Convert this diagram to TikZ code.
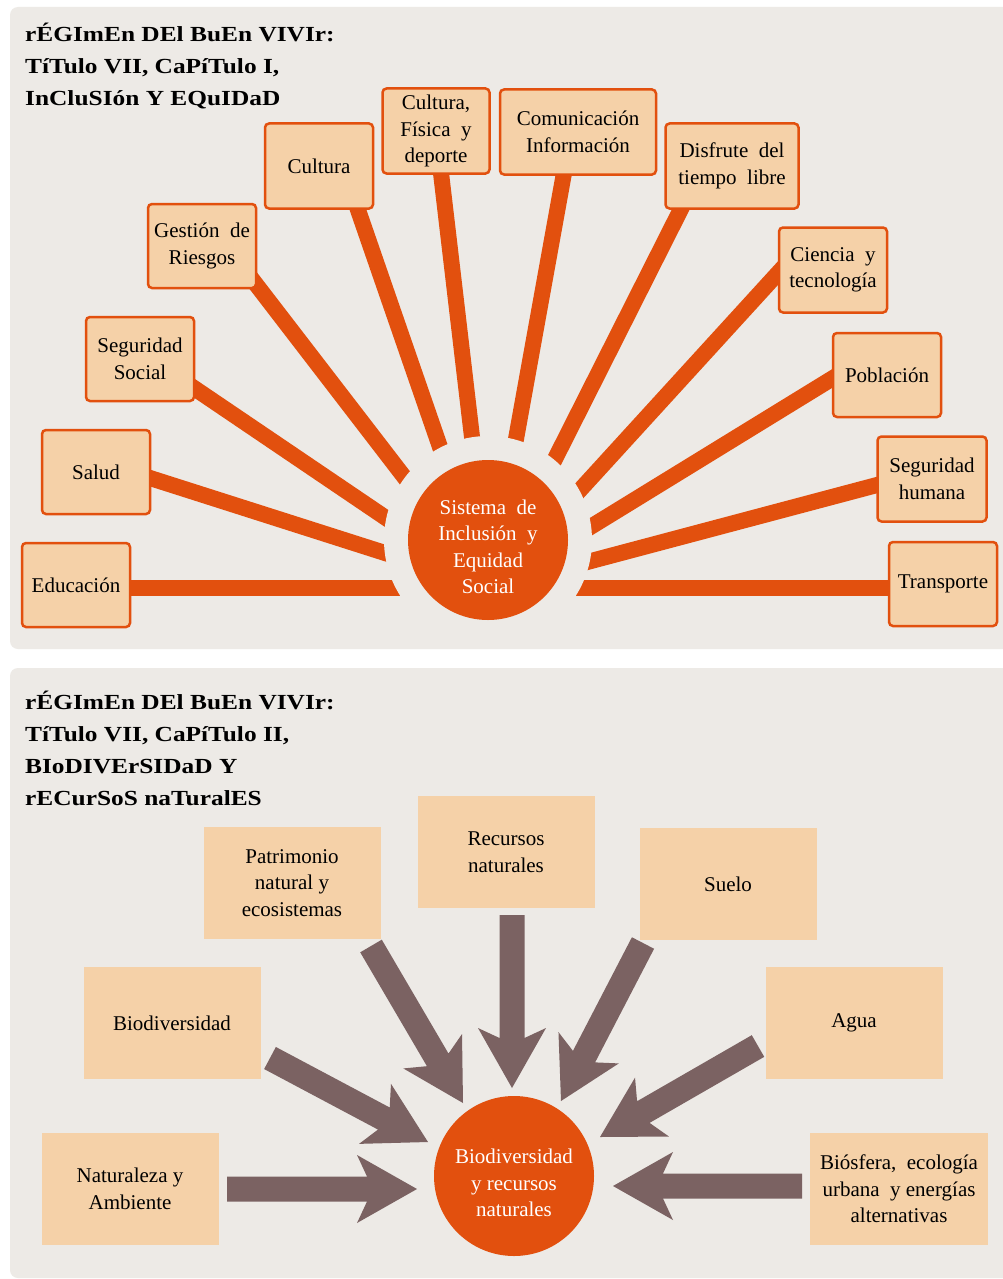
\documentclass[tikz,border=0pt]{standalone}
\usepackage{fontspec}
\setmainfont{Liberation Serif}
\newfontfamily\titlefont[FakeStretch=1.18]{Liberation Serif}
\usetikzlibrary{calc}
\definecolor{panelbg}{RGB}{237,234,230}
\definecolor{orng}{RGB}{226,80,14}
\definecolor{peach}{RGB}{245,209,168}
\definecolor{brwn}{RGB}{123,98,98}
\newcommand\boxfs{\fontsize{21}{26.5}\selectfont}
\newcommand\titlefs{\titlefont\bfseries\fontsize{21.5}{32}\selectfont}
\tikzset{
  tbox/.style={draw=orng, line width=2.5pt, fill=peach, rounded corners=4pt, align=center, inner sep=0pt, font=\boxfs, minimum width=108pt, minimum height=84pt},
  bbox/.style={fill=peach, align=center, inner sep=0pt, font=\boxfs, minimum width=177pt, minimum height=112pt},
  spoke/.style={draw=orng, line width=16pt, shorten <=-10pt, shorten >=-22pt},
  hub/.style={circle, fill=orng, inner sep=0pt, minimum size=160pt},
  hubtext/.style={text=white, align=center, font=\boxfs, inner sep=0pt},
  ttl/.style={anchor=base west, inner sep=0pt, font=\titlefs},
  arrowfill/.style={fill=brwn}
}
\newcommand\blockarrow[2]{%
  \path (#1) coordinate (ba-s) (#2) coordinate (ba-t);
  \path ($(ba-t)!50pt!(ba-s)$) coordinate (ba-j) ($(ba-t)!60pt!(ba-s)$) coordinate (ba-b);
  \fill[arrowfill] ($(ba-s)!12.5pt!90:(ba-t)$) -- ($(ba-j)!12.5pt!90:(ba-t)$) -- ($(ba-b)!34pt!90:(ba-t)$) -- (ba-t)
     -- ($(ba-b)!34pt!-90:(ba-t)$) -- ($(ba-j)!12.5pt!-90:(ba-t)$) -- ($(ba-s)!12.5pt!-90:(ba-t)$) -- cycle;
}
\begin{document}
\begin{tikzpicture}[x=1pt,y=-1pt]
\useasboundingbox (0,0) rectangle (1002,1279);
\fill[white] (0,0) rectangle (1002,1279);
\fill[panelbg, rounded corners=8pt] (10,7) rectangle (1030,649);
\fill[panelbg, rounded corners=8pt] (10,668) rectangle (1030,1278);

% ---------- top panel ----------
\coordinate (hubc) at (488,540);
\coordinate (s1) at (130,588);  \coordinate (e1) at (396,588);
\coordinate (s2) at (150,478);  \coordinate (e2) at (385,553);
\coordinate (s3) at (194,388);  \coordinate (e3) at (386,518);
\coordinate (s4) at (255,283);  \coordinate (e4) at (405,478);
\coordinate (s5) at (357,207);  \coordinate (e5) at (440,447);
\coordinate (s6) at (441,173);  \coordinate (e6) at (472,437);
\coordinate (s7) at (564,173);  \coordinate (e7) at (516,439);
\coordinate (s8) at (682,207);  \coordinate (e8) at (555,459);
\coordinate (s9) at (779,272);  \coordinate (e9) at (580,490);
\coordinate (s10) at (833,378); \coordinate (e10) at (592,526);
\coordinate (s11) at (877,485); \coordinate (e11) at (591,561);
\coordinate (s12) at (889,588); \coordinate (e12) at (581,588);
\foreach \i in {1,...,12} \draw[spoke] (s\i) -- (e\i);
\fill[panelbg] (hubc) circle (104pt);
\node[hub] (hub1) at (hubc) {};
\node[hubtext] (hub1t) at (488,547) {Sistema\ \ de\\Inclusión\ \ y\\Equidad\\Social};

\node[tbox] (educ) at (76,585) {Educación};
\node[tbox] (salud) at (96,472) {Salud};
\node[tbox] (segsoc) at (140,359) {Seguridad\\Social};
\node[tbox] (gest) at (202,246) {Gestión\ \ de\\Riesgos};
\node[tbox, minimum height=85pt] (cult) at (319,166) {Cultura};
\node[tbox, minimum width=107pt, minimum height=85pt] (cfd) at (436,131) {Cultura,\\Física\ \ y\\deporte};
\node[tbox, minimum width=156pt, minimum height=85pt] (comu) at (578,132) {Comunicación\\Información};
\node[tbox, minimum width=133pt, minimum height=85pt] (disf) at (732,166) {Disfrute\ \ del\\tiempo\ \ libre};
\node[tbox, minimum height=85pt] (cien) at (833,270) {Ciencia\ \ y\\tecnología};
\node[tbox] (pobl) at (887,375) {Población};
\node[tbox, minimum width=109pt, minimum height=85pt] (seghum) at (932,479) {Seguridad\\humana};
\node[tbox] (transp) at (943,584) {Transporte};

\node[ttl] (t1a) at (25,42) {rÉGImEn DEl BuEn VIVIr:};
\node[ttl] (t1b) at (25,74) {TíTulo VII, CaPíTulo I,};
\node[ttl] (t1c) at (25,106) {InCluSIón Y EQuIDaD};

% ---------- bottom panel ----------
\node[bbox] (patr) at (292,883) {Patrimonio\\natural y\\ecosistemas};
\node[bbox] (recu) at (506,852) {Recursos\\naturales};
\node[bbox] (suelo) at (728,884) {Suelo};
\node[bbox] (biod) at (172,1023) {Biodiversidad};
\node[bbox] (agua) at (854,1023) {Agua};
\node[bbox] (natu) at (130,1189) {Naturaleza y\\Ambiente};
\node[bbox, minimum width=178pt] (bios) at (899,1189) {Biósfera,\ \ ecología\\urbana\ \ y energías\\alternativas};

\node[hub] (hub2) at (514,1176) {};
\node[hubtext] (hub2t) at (514,1183) {Biodiversidad\\y recursos\\naturales};

\coordinate (a1s) at (227,1189); \coordinate (a1t) at (417,1189);
\coordinate (a2s) at (270,1058); \coordinate (a2t) at (428,1142);
\coordinate (a3s) at (371,946);  \coordinate (a3t) at (463,1103);
\coordinate (a4s) at (512,915);  \coordinate (a4t) at (512,1088);
\coordinate (a5s) at (643,943);  \coordinate (a5t) at (561,1101);
\coordinate (a6s) at (758,1046); \coordinate (a6t) at (600,1137);
\coordinate (a7s) at (802,1186); \coordinate (a7t) at (613,1186);
\blockarrow{a1s}{a1t}
\blockarrow{a2s}{a2t}
\blockarrow{a3s}{a3t}
\blockarrow{a4s}{a4t}
\blockarrow{a5s}{a5t}
\blockarrow{a6s}{a6t}
\blockarrow{a7s}{a7t}

\node[ttl] (t2a) at (25,709) {rÉGImEn DEl BuEn VIVIr:};
\node[ttl] (t2b) at (25,741) {TíTulo VII, CaPíTulo II,};
\node[ttl] (t2c) at (25,773) {BIoDIVErSIDaD Y};
\node[ttl] (t2d) at (25,805) {rECurSoS naTuralES};
\end{tikzpicture}
\end{document}
